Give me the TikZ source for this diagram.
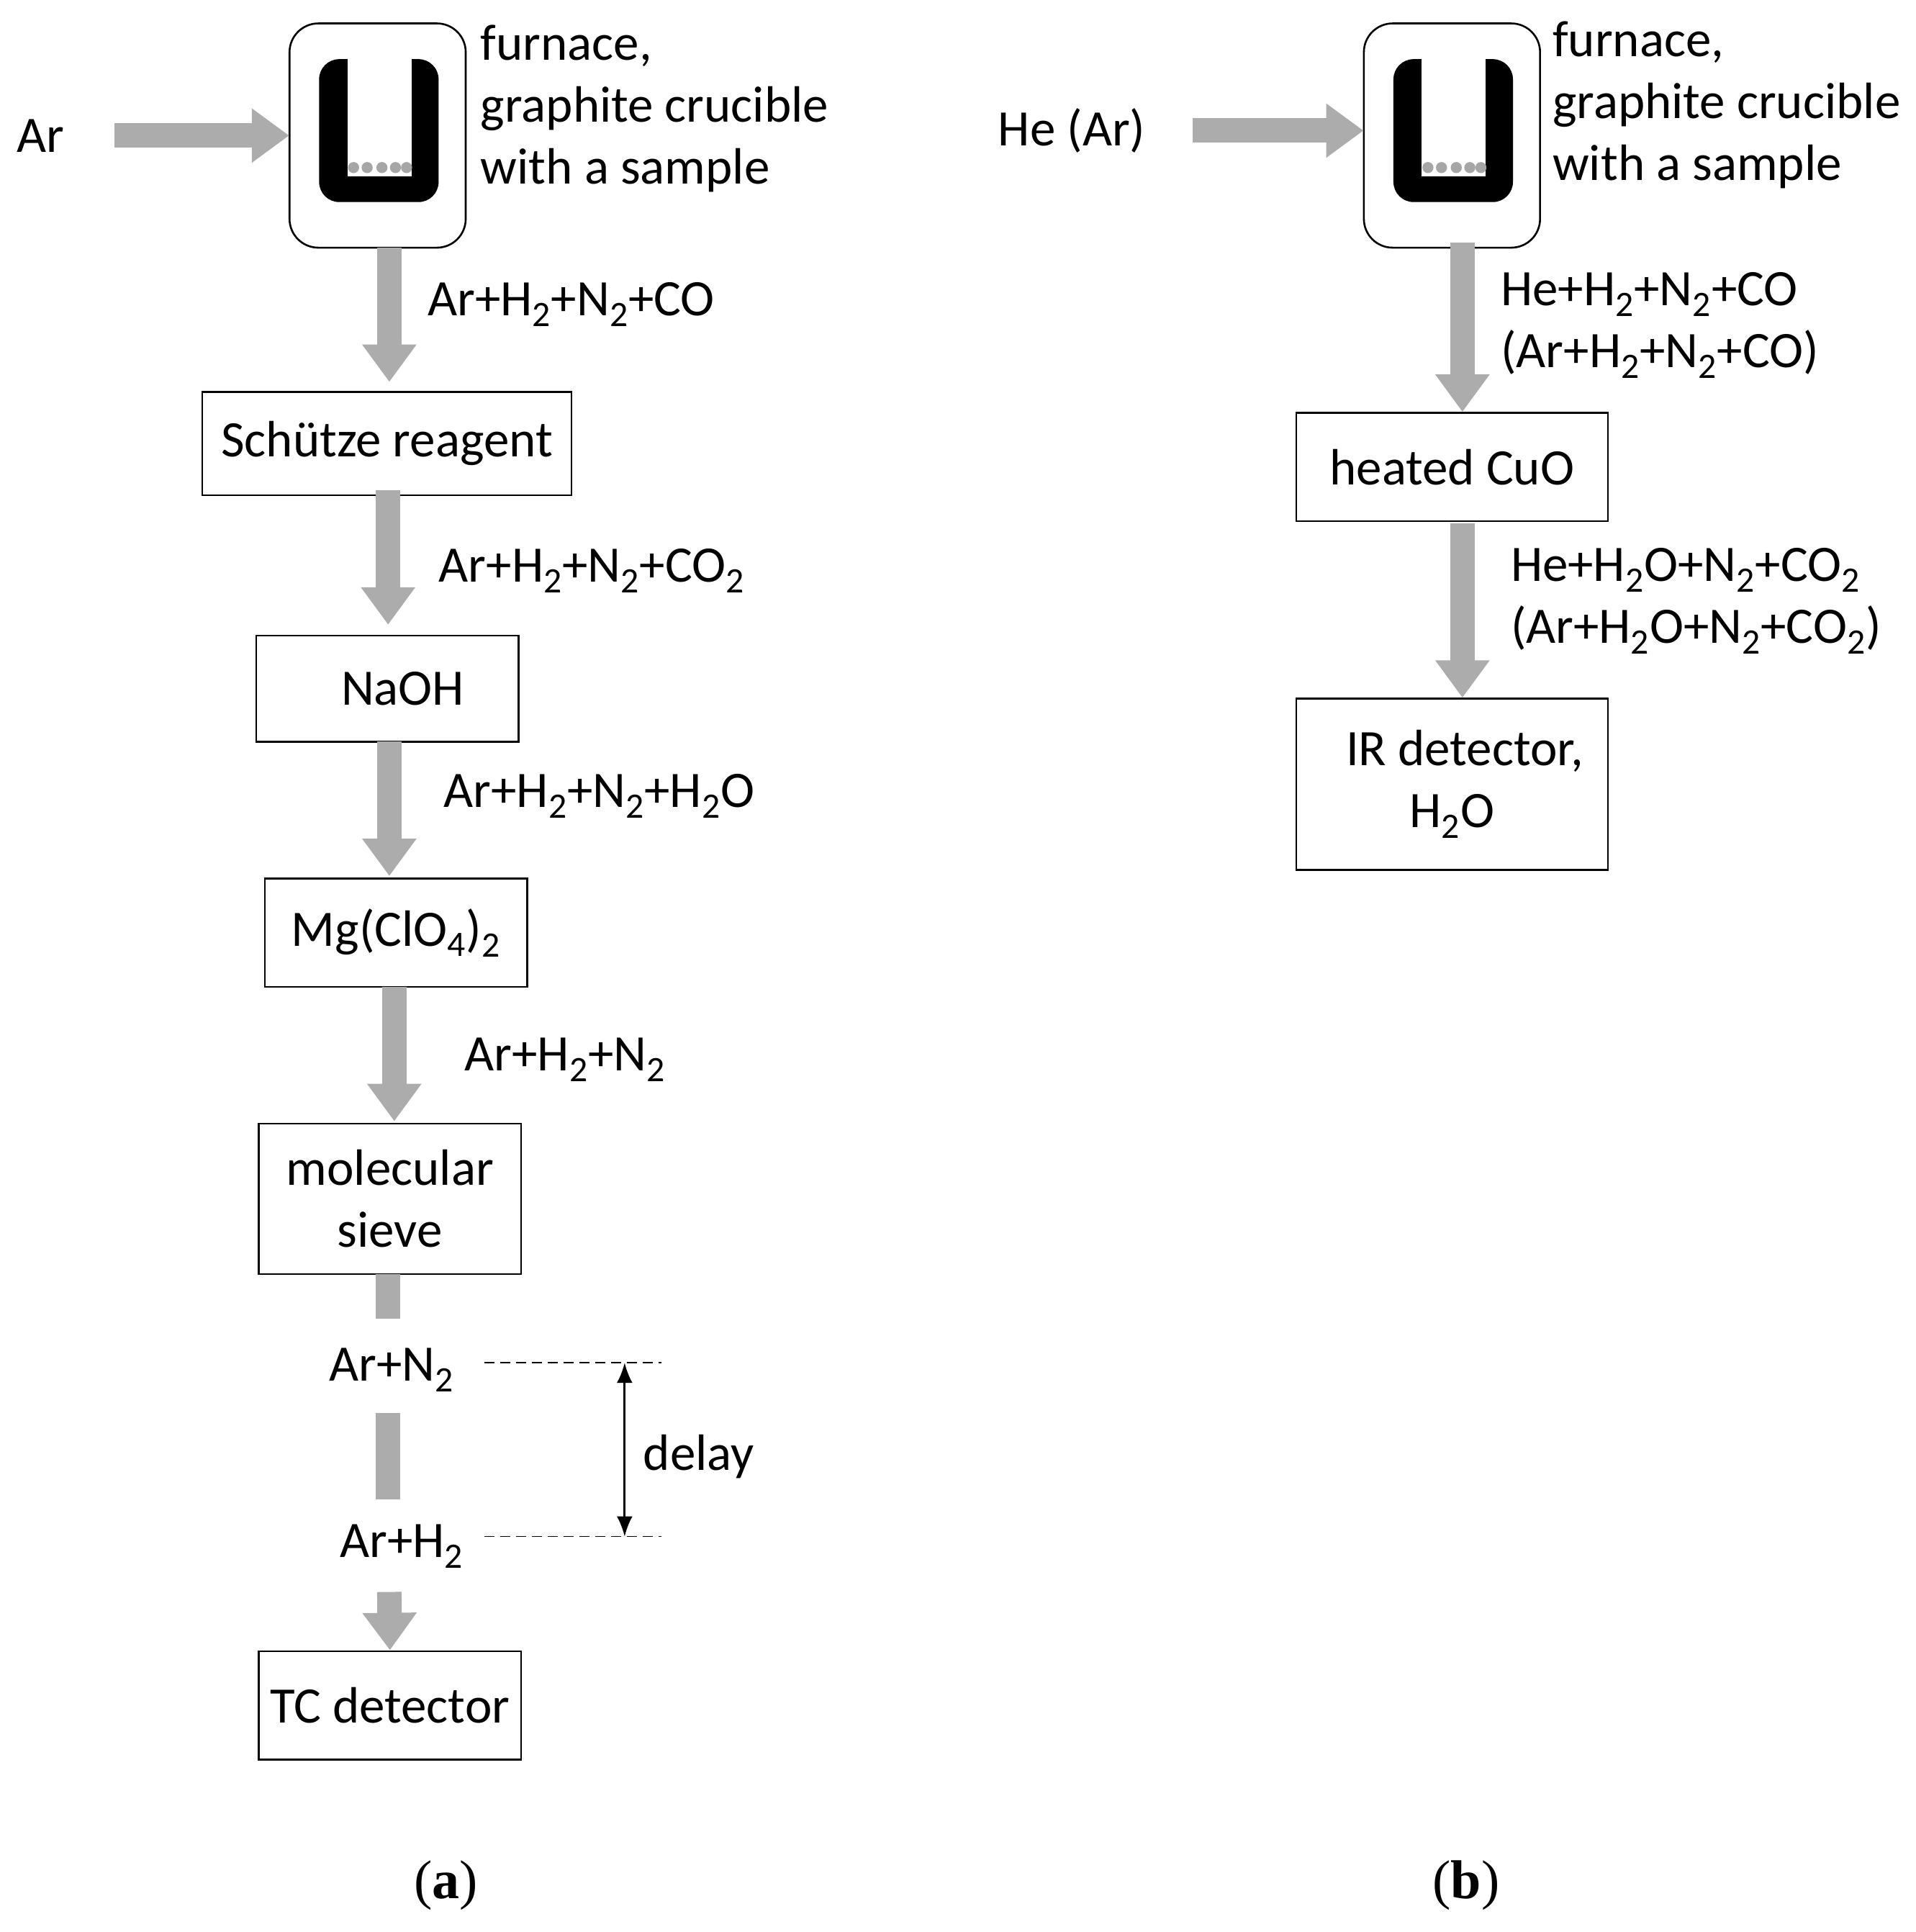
\documentclass[tikz,border=0pt]{standalone}
\usepackage{fontspec}
\setmainfont{Carlito}
\newfontfamily\serifl{Liberation Serif}
\usetikzlibrary{arrows.meta}
\begin{document}
\begin{tikzpicture}[x=0.856pt,y=-0.856pt,
  every node/.style={font=\fontsize{35.5}{43}\selectfont},
  box/.style={draw,line width=1.2pt,rectangle,inner sep=0pt,align=center},
  flow/.style={draw=gray!65,line width=17pt,-{Triangle[width=36pt,length=26pt]}},
  bar/.style={draw=gray!65,line width=17pt},
  lbl/.style={anchor=west,align=left,inner sep=0pt},
  dashln/.style={dash pattern=on 7pt off 4pt,line width=0.8pt}]
\useasboundingbox (0,0) rectangle (1555,1568);
\foreach \dx in {0,872}{
 \begin{scope}[xshift=\dx*0.856pt]
  \draw[line width=1.3pt,rounded corners=20pt] (235,19) rectangle (378,201);
  \fill[rounded corners=14pt] (259,48) rectangle (356,164);
  \fill[white] (282,48) rectangle (334,143);
  \foreach \cx in {287,298,310,321,330}{\fill[gray!70] (\cx,136) circle (4.5);}
 \end{scope}
}
\node[minimum width=143*0.856pt,minimum height=182*0.856pt,inner sep=0pt] (fa) at (306.5,110) {};
\node[minimum width=143*0.856pt,minimum height=178*0.856pt,inner sep=0pt] (fb) at (1178.5,108) {};

% ---------- (a) ----------
\node (ar) at (33,110) {Ar};
\coordinate (arS) at (93,110);
\draw[flow] (arS) -- (fa.west |- arS);
\node[lbl] at (390,88) {furnace,\\graphite crucible\\with a sample};

\node[box,minimum width=300*0.856pt,minimum height=84*0.856pt] (sch) at (314,360) {Schütze reagent};
\node[box,minimum width=213*0.856pt,minimum height=86*0.856pt] (naoh) at (314.5,559) {\hspace*{0.6em}NaOH};
\node[box,minimum width=213*0.856pt,minimum height=88*0.856pt] (mg) at (321.5,757) {Mg(ClO\textsubscript{4})\textsubscript{2}};
\node[box,minimum width=213*0.856pt,minimum height=122*0.856pt] (ms) at (316.5,973) {molecular\\sieve};
\node[box,minimum width=213*0.856pt,minimum height=88*0.856pt] (tc) at (316.5,1384) {TC detector};

\draw[flow] (316,201) -- (316,310);
\node[lbl] at (347,247) {Ar+H\textsubscript{2}+N\textsubscript{2}+CO};
\draw[flow] (315,398) -- (315,507);
\node[lbl] at (356,463) {Ar+H\textsubscript{2}+N\textsubscript{2}+CO\textsubscript{2}};
\draw[flow] (316,602) -- (316,711);
\node[lbl] at (360,646) {Ar+H\textsubscript{2}+N\textsubscript{2}+H\textsubscript{2}O};
\draw[flow] (320,801) -- (320,910);
\node[lbl] at (377,860) {Ar+H\textsubscript{2}+N\textsubscript{2}};

\draw[bar] (315,1034) -- (315,1070);
\node (arn) at (318,1112) {Ar+N\textsubscript{2}};
\draw[bar] (315,1147) -- (315,1217);
\node (arh) at (326,1255) {Ar+H\textsubscript{2}};
\draw[flow] (316,1292) -- (tc.north);

\coordinate (d1a) at (393,1106); \coordinate (d1b) at (537,1106);
\coordinate (d2a) at (393,1247); \coordinate (d2b) at (537,1247);
\draw[dashln] (d1a) -- (d1b);
\draw[dashln] (d2a) -- (d2b);
\coordinate (u) at (507,1106); \coordinate (l) at (507,1247);
\draw[line width=1.5pt,{Latex[length=14pt,width=11pt]}-{Latex[length=14pt,width=11pt]}] (u) -- (l);
\node[lbl] at (522,1182) {delay};

\node[font=\fontsize{38}{44}\selectfont\serifl] (la) at (362,1530) {(\textbf{a})};

% ---------- (b) ----------
\node (he) at (870,106) {He (Ar)};
\coordinate (heS) at (968,106);
\draw[flow] (heS) -- (fb.west |- heS);
\node[lbl] at (1260,85) {furnace,\\graphite crucible\\with a sample};

\node[box,minimum width=253*0.856pt,minimum height=88*0.856pt] (cuo) at (1178.5,379) {heated CuO};
\node[box,minimum width=253*0.856pt,minimum height=139*0.856pt] (ir) at (1178.5,636.5) {\hspace*{0.5em}IR detector,\\H\textsubscript{2}O};

\draw[flow] (1187,197) -- (cuo.north -| 1187,0);
\node[lbl] at (1218,264) {He+H\textsubscript{2}+N\textsubscript{2}+CO\\(Ar+H\textsubscript{2}+N\textsubscript{2}+CO)};
\draw[flow] (1187,425) -- (ir.north -| 1187,0);
\node[lbl] at (1226,488) {He+H\textsubscript{2}O+N\textsubscript{2}+CO\textsubscript{2}\\(Ar+H\textsubscript{2}O+N\textsubscript{2}+CO\textsubscript{2})};

\node[font=\fontsize{38}{44}\selectfont\serifl] (lb) at (1190,1530) {(\textbf{b})};
\end{tikzpicture}
\end{document}
